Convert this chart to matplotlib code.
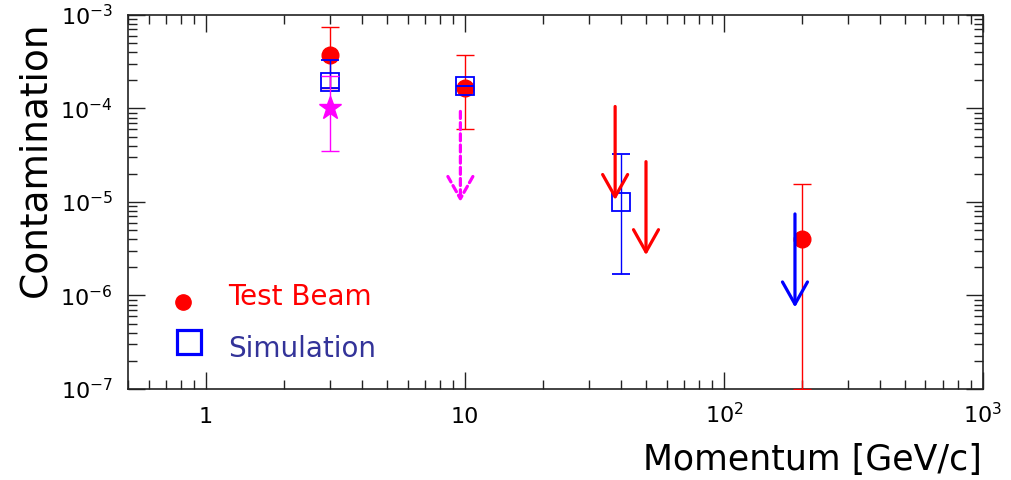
import matplotlib
matplotlib.use("Agg")
import matplotlib.pyplot as plt
from matplotlib.ticker import FixedLocator, LogLocator, NullFormatter

# ---- data -------------------------------------------------------------
# Test beam measurements: momentum, value, lower / upper error-bar ends
tb_p = [3, 10, 200]
tb_val = [3.7e-4, 1.67e-4, 4.0e-6]
tb_lo = [1.67e-4, 6.1e-5, 1.0e-7]
tb_hi = [7.4e-4, 3.7e-4, 1.55e-5]

# Simulation results
sim_p = [3, 10, 40]
sim_val = [1.9e-4, 1.76e-4, 1.0e-5]
sim_lo = [1.65e-4, 1.76e-4, 1.71e-6]
sim_hi = [3.3e-4, 1.76e-4, 3.3e-5]

# Additional measurement (star)
star_p = [3]
star_val = [1.0e-4]
star_lo = [3.5e-5]
star_hi = [2.2e-4]

# Upper limits: momentum, arrow start, arrow tip
tb_lim_p = [38, 50]
tb_lim_top = [1.05e-4, 2.7e-5]
tb_lim_tip = [1.05e-5, 2.7e-6]

sim_lim_p = [188]
sim_lim_top = [7.45e-6]
sim_lim_tip = [7.45e-7]

star_lim_p = [9.6]
star_lim_top = [9.3e-5]
star_lim_tip = [1.0e-5]

x_ticks = [1, 10, 100, 1000]
x_ticklabels = ["1", "10", "$10^{2}$", "$10^{3}$"]
y_ticks = [1e-7, 1e-6, 1e-5, 1e-4, 1e-3]
y_ticklabels = ["$10^{-7}$", "$10^{-6}$", "$10^{-5}$", "$10^{-4}$", "$10^{-3}$"]

RED = "#ff0000"
BLUE = "#0000ff"
MAGENTA = "#ff00ff"
NAVY = "#333399"

plt.rcParams["font.family"] = ["DejaVu Sans"]
plt.rcParams["mathtext.fontset"] = "dejavusans"

fig = plt.figure(figsize=(10.12, 4.8), dpi=100)
ax = fig.add_axes([0.1265, 0.1896, 0.8448, 0.7792])
ax.set_xscale("log")
ax.set_yscale("log")
ax.set_xlim(0.5, 1000)
ax.set_ylim(1e-7, 1e-3)


def yerr(val, lo, hi):
    return [[v - l for v, l in zip(val, lo)], [h - v for v, h in zip(val, hi)]]


ax.errorbar(tb_p, tb_val, yerr=yerr(tb_val, tb_lo, tb_hi), fmt="o", color=RED,
            ms=12, capsize=6.5, elinewidth=1.0, capthick=1.0, zorder=3)
ax.errorbar(sim_p, sim_val, yerr=yerr(sim_val, sim_lo, sim_hi), fmt="s",
            color=BLUE, mfc="none", mec=BLUE, ms=13, mew=1.3,
            capsize=6.5, elinewidth=1.0, capthick=1.0, zorder=4)
ax.errorbar(star_p, star_val, yerr=yerr(star_val, star_lo, star_hi), fmt="*",
            color=MAGENTA, ms=17, capsize=6.5, elinewidth=1.0, capthick=1.0,
            zorder=5)


def limit_arrows(xs, tops, tips, color, ls="-"):
    for x, top, tip in zip(xs, tops, tips):
        ax.annotate("", xy=(x, tip), xytext=(x, top),
                    arrowprops=dict(arrowstyle="->,head_length=0.8,head_width=0.45",
                                    color=color, lw=2.3, linestyle=ls,
                                    shrinkA=0, shrinkB=0, mutation_scale=20),
                    zorder=6)


limit_arrows(tb_lim_p, tb_lim_top, tb_lim_tip, RED)
limit_arrows(sim_lim_p, sim_lim_top, sim_lim_tip, BLUE)
limit_arrows(star_lim_p, star_lim_top, star_lim_tip, MAGENTA, ls=(0, (2.2, 1.3)))

# axes frame and ticks
for sp in ax.spines.values():
    sp.set_linewidth(1.2)
    sp.set_color("#222222")

ax.xaxis.set_major_locator(FixedLocator(x_ticks))
ax.set_xticklabels(x_ticklabels)
ax.yaxis.set_major_locator(FixedLocator(y_ticks))
ax.set_yticklabels(y_ticklabels)
ax.xaxis.set_minor_locator(LogLocator(base=10, subs=range(2, 10), numticks=20))
ax.yaxis.set_minor_locator(LogLocator(base=10, subs=range(2, 10), numticks=20))
ax.xaxis.set_minor_formatter(NullFormatter())
ax.yaxis.set_minor_formatter(NullFormatter())

ax.tick_params(which="both", direction="in", top=True, right=True,
               color="#222222", width=1.0)
ax.tick_params(which="major", length=12.5)
ax.tick_params(which="minor", length=6.5)
ax.tick_params(axis="x", which="major", labelsize=16, pad=24.5)
ax.tick_params(axis="y", which="major", labelsize=16, pad=11)
for lbl in ax.get_xticklabels():
    lbl.set_verticalalignment("baseline")

# axis titles
fig.text(0.0346, 0.669, "Contamination", rotation=90, ha="center", va="center",
         fontsize=27)
fig.text(0.9704, 0.0208, "Momentum [GeV/c]", ha="right", va="baseline",
         fontsize=25)

# legend
ax.plot([0.0643], [0.2326], "o", color=RED, ms=11, transform=ax.transAxes,
        clip_on=False)
ax.plot([0.0713], [0.1257], "s", mfc="none", mec=BLUE, mew=2.3, ms=17,
        transform=ax.transAxes, clip_on=False)
ax.text(0.117, 0.2246, "Test Beam", color=RED, fontsize=20,
        transform=ax.transAxes, va="baseline", ha="left")
ax.text(0.117, 0.0856, "Simulation", color=NAVY, fontsize=20,
        transform=ax.transAxes, va="baseline", ha="left")

fig.savefig("out.png", dpi=100, facecolor="white")
